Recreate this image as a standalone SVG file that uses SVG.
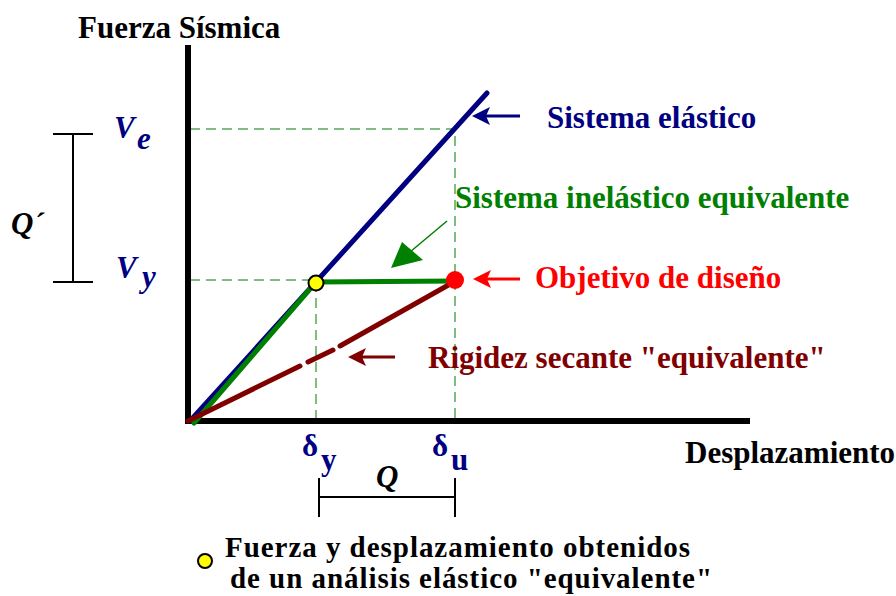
<svg xmlns="http://www.w3.org/2000/svg" width="896" height="596" viewBox="0 0 896 596">
<style>
text{font-family:"Liberation Serif","Times New Roman",serif;font-weight:bold;font-size:31px}
.guide{stroke:#007a00;stroke-width:1;stroke-dasharray:10 6;fill:none}
.blk{stroke:#000;fill:none}
.leg{font-size:29px}
</style>
<rect width="896" height="596" fill="#fff"/>
<g id="connectors">
<path class="guide" d="M190,129 H455 V420 M190,280 H316 V420"/>
<line x1="188" y1="45" x2="188" y2="424" stroke="#000" stroke-width="6"/>
<line x1="185" y1="421" x2="750" y2="421" stroke="#000" stroke-width="6"/>
<line x1="190" y1="421" x2="487" y2="93" stroke="#000080" stroke-width="5" stroke-linecap="round"/>
<polyline points="194,423 316,282 455,281" fill="none" stroke="#008000" stroke-width="5" stroke-linecap="round"/>
<path d="M188,421 L300,366 M308,362 L333,350 M340,346 L452,283" stroke="#800000" stroke-width="5" stroke-linecap="round" fill="none"/>
<line x1="520" y1="116" x2="484" y2="116" stroke="#000080" stroke-width="3"/>
<path d="M472,116 L490,107 L486,116 L490,125 Z" fill="#000080"/>
<line x1="520" y1="279" x2="485" y2="279" stroke="#ff0000" stroke-width="3"/>
<path d="M473,279 L491,270 L487,279 L491,288 Z" fill="#ff0000"/>
<line x1="395" y1="357" x2="360" y2="357" stroke="#800000" stroke-width="3"/>
<path d="M348,357 L366,348 L362,357 L366,366 Z" fill="#800000"/>
<line x1="447" y1="221" x2="410" y2="252" stroke="#008000" stroke-width="1.5"/>
<path d="M391,268 L402,242 L423,260 Z" fill="#008000"/>
<path class="blk" stroke-width="2" d="M73,134 V282 M53,134 H93 M53,282 H93"/>
<path class="blk" stroke-width="2" d="M319,478 V517 M455,478 V517 M319,497 H455"/>
</g>
<g id="node-yield"><circle cx="316" cy="283" r="7.5" fill="#ffff00" stroke="#000" stroke-width="2"/></g>
<g id="node-target"><circle cx="455" cy="280" r="9" fill="#ff0000"/></g>
<g id="labels">
<text x="78" y="38">Fuerza Sísmica</text>
<text x="685" y="463">Desplazamiento</text>
<text x="114" y="138" fill="#000080" font-style="italic" font-size="32">V</text>
<text x="137" y="149" fill="#000080" font-style="italic" font-size="29">e</text>
<text x="116" y="278" fill="#000080" font-style="italic" font-size="32">V</text>
<text x="142" y="287" fill="#000080" font-style="italic" font-size="29">y</text>
<text x="11" y="234" font-style="italic" font-size="31">Q´</text>
<text x="302" y="456" fill="#000080" font-size="32">δ</text>
<text x="321" y="470" fill="#000080" font-size="28">y</text>
<text x="432" y="456" fill="#000080" font-size="32">δ</text>
<text x="451" y="470" fill="#000080" font-size="28">u</text>
<text x="376" y="487" font-style="italic" font-size="31">Q</text>
<text x="547" y="128" fill="#000080">Sistema elástico</text>
<text x="455" y="208" fill="#008000">Sistema inelástico equivalente</text>
<text x="535" y="288" fill="#ff0000">Objetivo de diseño</text>
<text x="428" y="368" fill="#800000">Rigidez secante "equivalente"</text>
</g>
<g id="legend">
<circle cx="205" cy="561" r="7" fill="#ffff00" stroke="#000" stroke-width="2"/>
<text class="leg" x="225" y="557" textLength="465" lengthAdjust="spacing">Fuerza y desplazamiento obtenidos</text>
<text class="leg" x="230" y="588" textLength="482" lengthAdjust="spacing">de un análisis elástico "equivalente"</text>
</g>
</svg>
